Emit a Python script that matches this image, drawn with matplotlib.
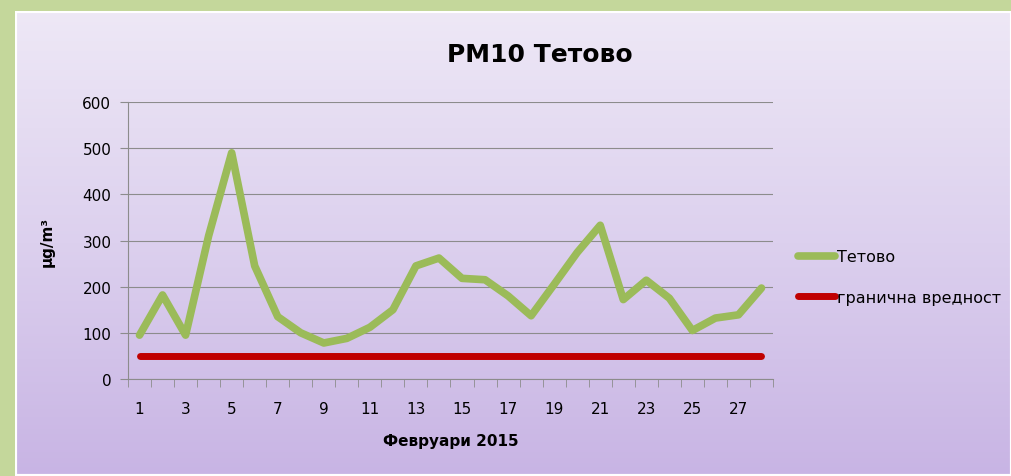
import numpy as np
import matplotlib
matplotlib.use("Agg")
import matplotlib.pyplot as plt
from matplotlib.colors import LinearSegmentedColormap
from matplotlib.patches import Rectangle

days = list(range(1, 29))
tetovo = [95, 182, 95, 310, 490, 245, 135, 100, 78, 88, 112, 150, 245, 262,
          218, 215, 180, 137, 205, 274, 333, 172, 214, 175, 105, 132, 139, 197]
limit = [50] * 28
xticks = list(range(1, 29, 2))

plt.rcParams["font.family"] = ["DejaVu Sans"]

fig = plt.figure(figsize=(10.12, 4.77), dpi=100)
fig.patch.set_facecolor("#c4d79b")

# purple gradient panel
bg = fig.add_axes([15 / 1012, 0, 1 - 15 / 1012, 1 - 12 / 477], zorder=0)
grad = np.linspace(0, 1, 256).reshape(-1, 1)
cmap = LinearSegmentedColormap.from_list("bg", ["#eee8f6", "#dcd0ee", "#c8b4e4"])
bg.imshow(grad, aspect="auto", cmap=cmap, extent=[0, 1, 0, 1])
bg.add_patch(Rectangle((0, 0), 1, 1, fill=False, ec="white", lw=3,
                       transform=bg.transAxes))
bg.axis("off")

ax = fig.add_axes([128 / 1012, 1 - 380 / 477, 645 / 1012, 277 / 477], zorder=1)
ax.patch.set_alpha(0)
ax.plot(days, tetovo, color="#9bbb59", lw=5.5, solid_capstyle="round",
        solid_joinstyle="round", label="Тетово")
ax.plot(days, limit, color="#c00000", lw=5, solid_capstyle="round",
        label="гранична вредност")

ax.set_xlim(0.5, 28.5)
ax.set_ylim(0, 600)
ax.set_yticks(range(0, 601, 100))
ax.set_xticks(xticks)
ax.set_xticks(np.arange(0.5, 29, 1), minor=True)
ax.tick_params(axis="x", which="major", length=0, pad=16, labelsize=11)
ax.tick_params(axis="x", which="minor", length=6, color="#8c8c8c", direction="out")
ax.tick_params(axis="y", length=6, color="#8c8c8c", labelsize=11, pad=6)
ax.grid(axis="y", color="#8c8c8c", lw=0.8)
ax.set_axisbelow(True)
for s in ["top", "right"]:
    ax.spines[s].set_visible(False)
for s in ["left", "bottom"]:
    ax.spines[s].set_color("#8c8c8c")
    ax.spines[s].set_linewidth(0.8)

ax.set_ylabel("µg/m³", fontweight="bold", fontsize=11, labelpad=20)
ax.set_xlabel("Февруари 2015", fontweight="bold", fontsize=11, labelpad=12)
fig.text(540 / 1012, 1 - 55 / 477, "PM10 Тетово", ha="center", va="center",
         fontsize=18, fontweight="bold")

fig.legend(*ax.get_legend_handles_labels(), loc="center left",
           bbox_to_anchor=(784 / 1012, 1 - 278 / 477), frameon=False,
           fontsize=11.5, handlelength=2.3, handletextpad=0.1, labelspacing=1.6)

fig.savefig("out.png", dpi=100, facecolor=fig.get_facecolor())
